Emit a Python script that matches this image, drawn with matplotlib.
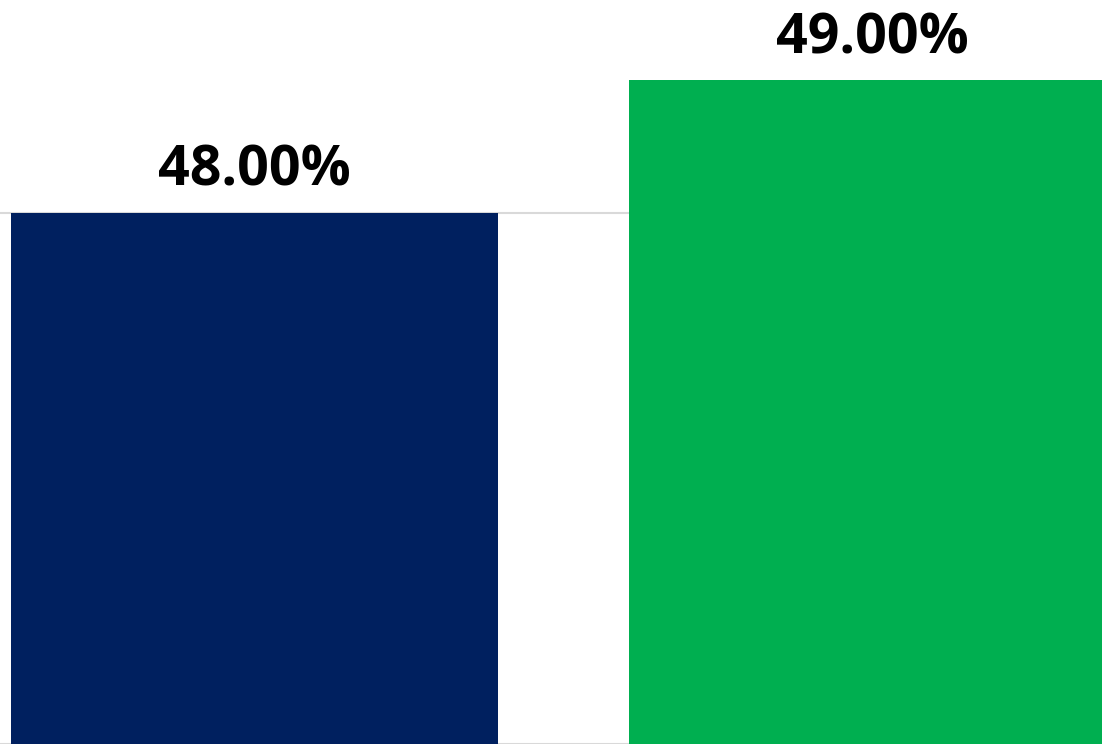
import matplotlib
matplotlib.use("Agg")
import matplotlib.pyplot as plt

categories = ["A", "B"]
values = [48.00, 49.00]
colors = ["#00205f", "#00af50"]

fig = plt.figure(figsize=(11.02, 7.44), dpi=100)
ax = fig.add_axes([0, 0, 1, 1])

x = list(range(len(categories)))
ax.bar(x, values, width=0.788, color=colors, zorder=2)

ax.set_xlim(-0.4118, 1.3714)
ax.set_ylim(44, 49.6045)
ax.set_yticks([44, 48])
ax.yaxis.grid(True, color="#d9d9d9", linewidth=1.5, zorder=1)
ax.tick_params(left=False, bottom=False, labelleft=False, labelbottom=False)
for s in ax.spines.values():
    s.set_visible(False)

for xi, v in zip(x, values):
    ax.annotate(f"{v:.2f}%", (xi, v), xytext=(0, 14), textcoords="offset pixels",
                ha="center", va="bottom", fontsize=40, fontweight="bold",
                family="Open Sans", color="black")

fig.savefig("out.png", dpi=100)
